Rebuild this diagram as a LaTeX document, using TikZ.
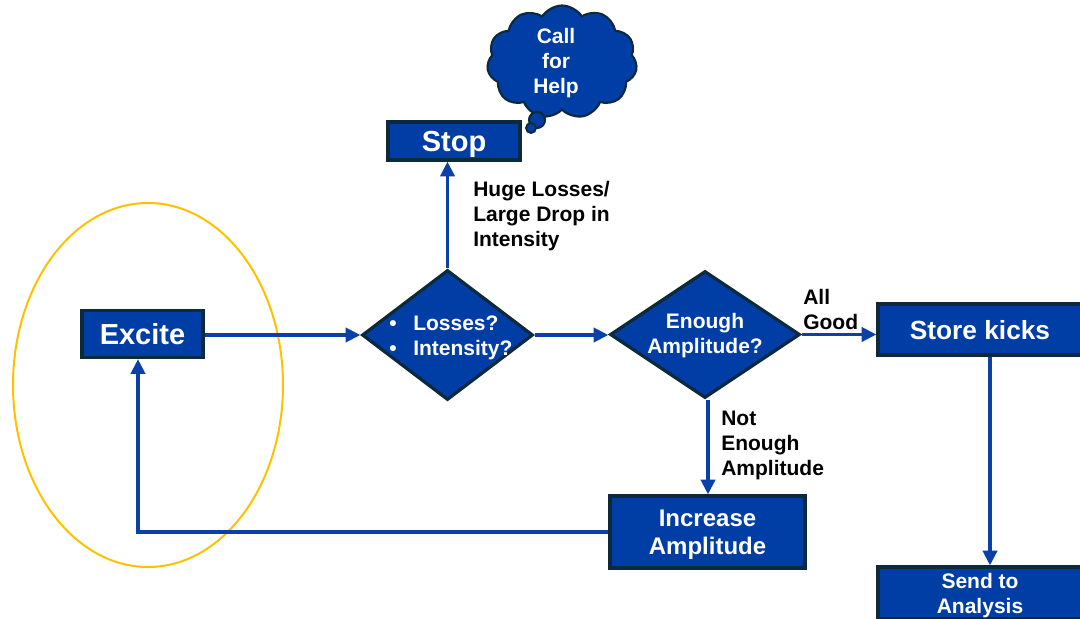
\documentclass[tikz,border=0pt]{standalone}
\usepackage{fontspec}
\setmainfont{Liberation Sans}
\usetikzlibrary{shapes.geometric,shapes.symbols,arrows.meta}
\newlength\upx
\setlength\upx{0.75pt}
\definecolor{fblue}{RGB}{0,61,165}
\definecolor{navy}{RGB}{12,42,60}
\definecolor{lblue}{RGB}{10,64,168}
\definecolor{ring}{RGB}{255,192,0}
\tikzset{
  box/.style={draw=navy, line width=2.4pt, fill=fblue, text=white, inner sep=0pt, align=center, text depth=0pt},
  dia/.style={diamond, draw=navy, line width=2.4pt, fill=fblue, inner sep=0pt},
  wtext/.style={text=white, inner sep=0pt, align=center, text depth=0pt, font=\bfseries\fontsize{15.75pt}{18.75pt}\selectfont},
  flow/.style={draw=lblue, line width=2.6pt, -{Triangle[length=11pt,width=10.5pt]}},
  lbl/.style={text=black, anchor=west, inner sep=0pt, align=left, font=\bfseries\fontsize{15.75pt}{18.75pt}\selectfont},
  big/.style={font=\bfseries\fontsize{21.75pt}{26pt}\selectfont},
  mid/.style={font=\bfseries\fontsize{18pt}{21pt}\selectfont},
  small/.style={font=\bfseries\fontsize{15.75pt}{18.75pt}\selectfont}
}
\begin{document}
\begin{tikzpicture}[x=0.75pt,y=-0.75pt]
\useasboundingbox (0,0) rectangle (1080,618);
\clip (0,0) rectangle (1080,618);
% highlight ellipse
\draw[ring, line width=1.5pt] (148,385) ellipse [x radius=135\upx, y radius=182\upx];
% nodes
\node[box, big, minimum width=121\upx, minimum height=47\upx] (excite) at (142.5,334) {Excite};
\node[box, big, minimum width=132\upx, minimum height=38\upx] (stop) at (454,141) {Stop};
\node[dia, minimum width=171\upx, minimum height=130\upx] (d1) at (447.5,335) {};
\node[wtext, anchor=west, align=left] (d1t) at (389,336) {\makebox[24\upx][l]{•}Losses?\\\makebox[24\upx][l]{•}Intensity?};
\node[dia, minimum width=190\upx, minimum height=127\upx] (d2) at (705,334.5) {};
\node[wtext] (d2t) at (705,333) {Enough\\Amplitude?};
\node[box, font=\bfseries\fontsize{19.7pt}{23pt}\selectfont, minimum width=204\upx, minimum height=51\upx] (store) at (980,329.5) {Store kicks};
\node[box, small, minimum width=204\upx, minimum height=52\upx] (send) at (980,593) {Send to\\Analysis};
\node[box, mid, minimum width=195\upx, minimum height=72\upx] (inc) at (707.5,532) {Increase\\Amplitude};
% cloud
\node[cloud, cloud puffs=11, cloud puff arc=115, aspect=1.3, draw=navy, fill=fblue, line width=1.6pt, minimum width=150\upx, minimum height=113\upx, inner sep=0pt] (cloud) at (562,62) {};
\node[wtext] (cloudt) at (556,61) {Call\\for\\Help};
\draw[navy, fill=fblue, line width=1.6pt] (537,120) circle [radius=8\upx];
\draw[navy, fill=fblue, line width=1.4pt] (531,128) circle [radius=5\upx];
% labels
\node[lbl] (l1) at (473,216) {Huge Losses/\\Large Drop in\\Intensity};
\node[lbl] (l2) at (803,309) {All\\Good};
\node[lbl] (l3) at (721,445) {Not\\Enough\\Amplitude};
% connectors
\draw[flow] (excite.east |- d1.west) -- (d1.west);
\draw[flow] (d1.east) -- (d1.east -| d2.west);
\draw[flow] (d1.north) -- (d1.north |- stop.south);
\draw[flow] (d2.east) -- (d2.east -| store.west);
\draw[flow] ([xshift=3\upx]d2.south) -- ([xshift=3\upx]d2.south |- inc.north);
\draw[flow] ([xshift=10\upx]store.south) -- ([xshift=10\upx]send.north);
\draw[flow] (inc.west) -| ([xshift=-4.5\upx]excite.south);
\end{tikzpicture}
\end{document}
